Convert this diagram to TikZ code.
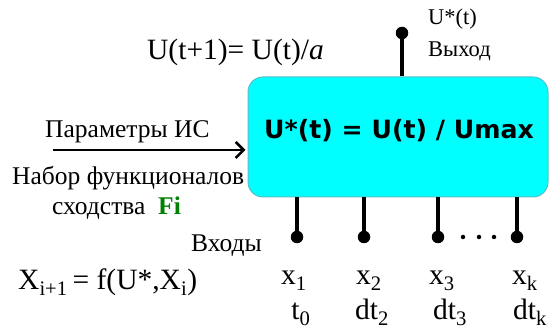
\documentclass[tikz,border=0pt]{standalone}
\usepackage{fontspec}
\setmainfont{Liberation Serif}
\newfontfamily\boxfont{DejaVu Sans}
\usetikzlibrary{arrows.meta}
\definecolor{boxcyan}{RGB}{0,255,255}
\definecolor{boxedge}{RGB}{90,190,200}
\definecolor{figreen}{RGB}{0,128,0}
\tikzset{
  mainbox/.style={draw=boxedge, line width=1pt, fill=boxcyan, rounded corners=15pt, minimum width=300pt, minimum height=120pt, inner sep=0pt},
  pin/.style={line width=3.5pt},
  dotnode/.style={circle, fill=black, minimum size=12.5pt, inner sep=0pt},
  smalldot/.style={circle, fill=black, minimum size=4.5pt, inner sep=0pt},
  lbl/.style={inner sep=0pt, anchor=base west},
  big/.style={font=\fontsize{29.5}{34}\selectfont},
  mid/.style={font=\fontsize{25.5}{30}\selectfont},
  sml/.style={font=\fontsize{22.5}{26}\selectfont},
  arr/.style={line width=2.5pt, -{Straight Barb[length=8pt,width=16pt,line width=2.5pt]}}
}
\begin{document}
\begin{tikzpicture}[x=1pt,y=-1pt]
\useasboundingbox (0,0) rectangle (550,331);
% main box
\node[mainbox] (box) at (398,137) {};
\node[inner sep=0pt, font=\boxfont\bfseries\fontsize{25.2}{29}\selectfont] (formula) at (399,131) {U*(t) = U(t) / Umax};
% output
\node[dotnode] (out) at (402,33) {};
\draw[pin] (out) -- (out |- box.north);
\node[lbl, sml] (ustar) at (428,25) {U*(t)};
\node[lbl, sml] (vyhod) at (428,57) {Выход};
% top formula
\node[lbl, big] (upd) at (147,60) {U(t+1)= U(t)/\textit{a}};
% input arrow
\coordinate (ain) at (53,150);
\draw[arr] (ain) -- ([xshift=-2pt]box.west |- ain);
\node[lbl, mid] (param) at (45,138) {Параметры ИС};
\node[lbl, mid] (nabor) at (12,185) {Набор функционалов};
\node[lbl, mid] (shod) at (52,215) {сходства\ \ \textcolor{figreen}{\textbf{Fi}}};
% inputs
\node[dotnode] (i1) at (297,237) {};
\node[dotnode] (i2) at (364,237) {};
\node[dotnode] (i3) at (438,237) {};
\node[dotnode] (ik) at (517,237) {};
\foreach \n in {i1,i2,i3,ik} { \draw[pin] (\n) -- (\n |- box.south); }
\node[smalldot] (d1) at (463,237) {};
\node[smalldot] (d2) at (479,237) {};
\node[smalldot] (d3) at (494,237) {};
\node[inner sep=0pt, anchor=base east, mid] (vhody) at (262,252) {Входы};
% variable labels
\node[inner sep=0pt, anchor=base, big] (x1) at (294,285) {x\textsubscript{1}};
\node[inner sep=0pt, anchor=base, big] (x2) at (369,285) {x\textsubscript{2}};
\node[inner sep=0pt, anchor=base, big] (x3) at (442,285) {x\textsubscript{3}};
\node[inner sep=0pt, anchor=base, big] (xk) at (525,285) {x\textsubscript{k}};
\node[inner sep=0pt, anchor=base, big] (t0) at (301,320) {t\textsubscript{0}};
\node[inner sep=0pt, anchor=base, big] (dt2) at (372,320) {dt\textsubscript{2}};
\node[inner sep=0pt, anchor=base, big] (dt3) at (450,320) {dt\textsubscript{3}};
\node[inner sep=0pt, anchor=base, big] (dtk) at (530,320) {dt\textsubscript{k}};
% recurrence
\node[lbl, big] (rec) at (18,290) {X\textsubscript{i+1}\,= f(U*,X\textsubscript{i})};
\end{tikzpicture}
\end{document}
